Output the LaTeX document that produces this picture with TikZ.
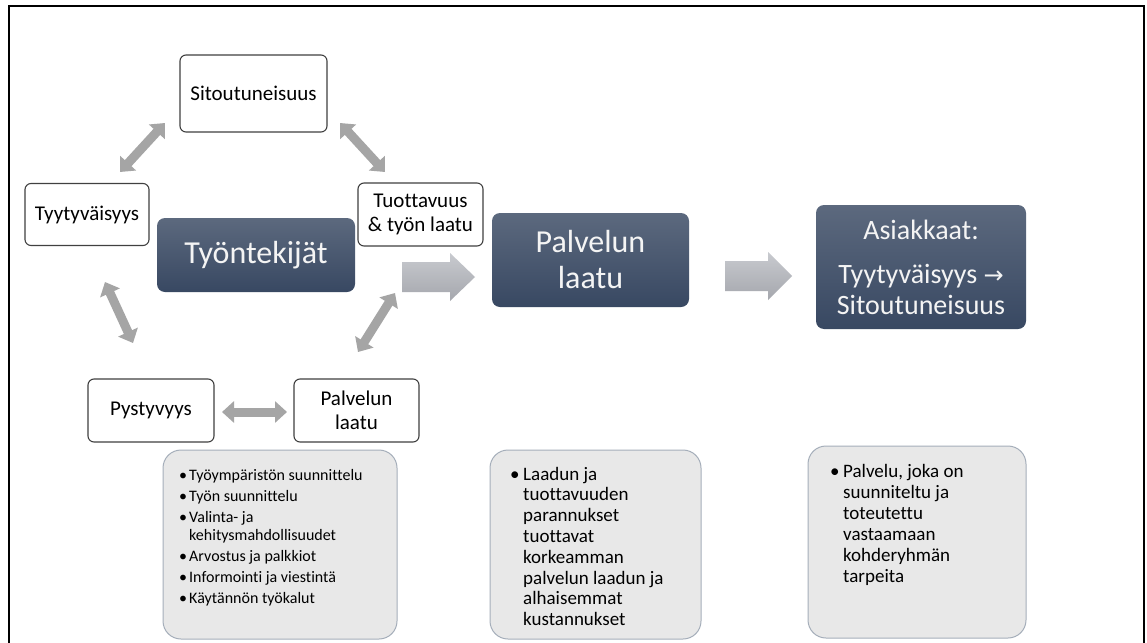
\documentclass[tikz,border=0pt]{standalone}
\usepackage{fontspec}
\setmainfont{Carlito}[Ligatures=NoCommon]
\newfontfamily\symfont{DejaVu Sans}
\usetikzlibrary{arrows.meta}
\definecolor{dktop}{RGB}{92,105,126}
\definecolor{dkbot}{RGB}{56,72,98}
\definecolor{artop}{RGB}{200,202,207}
\definecolor{arbot}{RGB}{165,167,173}
\definecolor{dblgray}{RGB}{165,165,165}
\definecolor{gfill}{RGB}{232,232,232}
\definecolor{gedge}{RGB}{165,174,186}
\definecolor{dktext}{RGB}{244,244,244}
\begin{document}
\begin{tikzpicture}[x=1pt,y=-1pt,
  smallbox/.style={draw=black!75, line width=1.1pt, fill=white, rounded corners=6pt,
    align=center, inner sep=0pt, font=\fontsize{21}{24}\selectfont},
  darkbox/.style={rounded corners=8pt, top color=dktop, bottom color=dkbot,
    text=dktext, align=center, inner sep=0pt},
  graybox/.style={draw=gedge, fill=gfill, rounded corners=18pt, line width=1pt},
  dblarrow/.style={draw=dblgray, line width=9pt,
    {Triangle[length=12pt,width=21pt]}-{Triangle[length=12pt,width=21pt]}},
  bigarrow/.style={top color=artop, bottom color=arbot, draw=none}
]
\useasboundingbox (0,0) rectangle (1147,642);
\fill[white] (0,0) rectangle (1147,642);
\draw[line width=2pt] (9,6) rectangle (1144,660);

% small white boxes
\node[smallbox, minimum width=147, minimum height=77] (sit) at (253.5,93.5) {Sitoutuneisuus};
\node[smallbox, minimum width=124, minimum height=62] (tyy) at (87,214.5) {Tyytyväisyys};
\node[smallbox, minimum width=125, minimum height=63] (tuo) at (420.5,214.5) {Tuottavuus\\\& työn laatu};
\node[smallbox, minimum width=126, minimum height=63] (pys) at (151,410.5) {Pystyvyys};
\node[smallbox, minimum width=125, minimum height=63] (pls) at (356.5,410.5) {Palvelun\\laatu};

% dark boxes
\node[darkbox, minimum width=198, minimum height=74, font=\fontsize{32}{36}\selectfont] (tyo) at (256,255) {Työntekijät};
\node[darkbox, minimum width=197, minimum height=94, font=\fontsize{32}{36}\selectfont] (pal) at (590.5,260) {Palvelun\\laatu};
\node[darkbox, minimum width=210, minimum height=124, font=\fontsize{28}{31}\selectfont] (asi) at (921,267) {Asiakkaat:\\[13pt]Tyytyväisyys {\symfont\fontsize{24}{31}\selectfont →}\\Sitoutuneisuus};

% gray boxes
\draw[graybox] (163,450) rectangle (397,639);
\draw[graybox] (490,450) rectangle (701,639);
\draw[graybox] (808,446) rectangle (1026,638);

\node[anchor=base west, inner sep=0pt, font=\fontsize{16}{18}\selectfont] (t1) at (179,480)
{\begin{tabular}[t]{@{}l@{}l@{}}
\makebox[10pt][l]{•} & Työympäristön suunnittelu\\[3pt]
\makebox[10pt][l]{•} & Työn suunnittelu\\[3pt]
\makebox[10pt][l]{•} & Valinta- ja\\
 & kehitysmahdollisuudet\\[3pt]
\makebox[10pt][l]{•} & Arvostus ja palkkiot\\[3pt]
\makebox[10pt][l]{•} & Informointi ja viestintä\\[3pt]
\makebox[10pt][l]{•} & Käytännön työkalut
\end{tabular}};

\node[anchor=base west, inner sep=0pt, font=\fontsize{19}{20.8}\selectfont] (t2) at (510,480)
{\begin{tabular}[t]{@{}l@{}l@{}}
\makebox[13pt][l]{•} & Laadun ja\\
 & tuottavuuden\\
 & parannukset\\
 & tuottavat\\
 & korkeamman\\
 & palvelun laadun ja\\
 & alhaisemmat\\
 & kustannukset
\end{tabular}};

\node[anchor=base west, inner sep=0pt, font=\fontsize{19}{21}\selectfont] (t3) at (830,477)
{\begin{tabular}[t]{@{}l@{}l@{}}
\makebox[13pt][l]{•} & Palvelu, joka on\\
 & suunniteltu ja\\
 & toteutettu\\
 & vastaamaan\\
 & kohderyhmän\\
 & tarpeita
\end{tabular}};

% double arrows
\coordinate (a1s) at (165,123); \coordinate (a1e) at (120,172);
\coordinate (a2s) at (340,123); \coordinate (a2e) at (385,172);
\coordinate (a3s) at (105,282); \coordinate (a3e) at (133,343);
\coordinate (a4s) at (395,293); \coordinate (a4e) at (358,352);
\coordinate (a5s) at (222,412); \coordinate (a5e) at (287,412);
\draw[dblarrow] (a1s) -- (a1e);
\draw[dblarrow] (a2s) -- (a2e);
\draw[dblarrow] (a3s) -- (a3e);
\draw[dblarrow] (a4s) -- (a4e);
\draw[dblarrow] (a5s) -- (a5e);

% big arrows
\coordinate (b1) at (402,277);
\coordinate (b2) at (725,276);
\shade[bigarrow] (b1) ++(0,-15) -- ++(48,0) -- ++(0,-9) -- ++(25,24) -- ++(-25,24) -- ++(0,-9) -- ++(-48,0) -- cycle;
\shade[bigarrow] (b2) ++(0,-15) -- ++(43,0) -- ++(0,-9) -- ++(24,24) -- ++(-24,24) -- ++(0,-9) -- ++(-43,0) -- cycle;
\end{tikzpicture}
\end{document}
